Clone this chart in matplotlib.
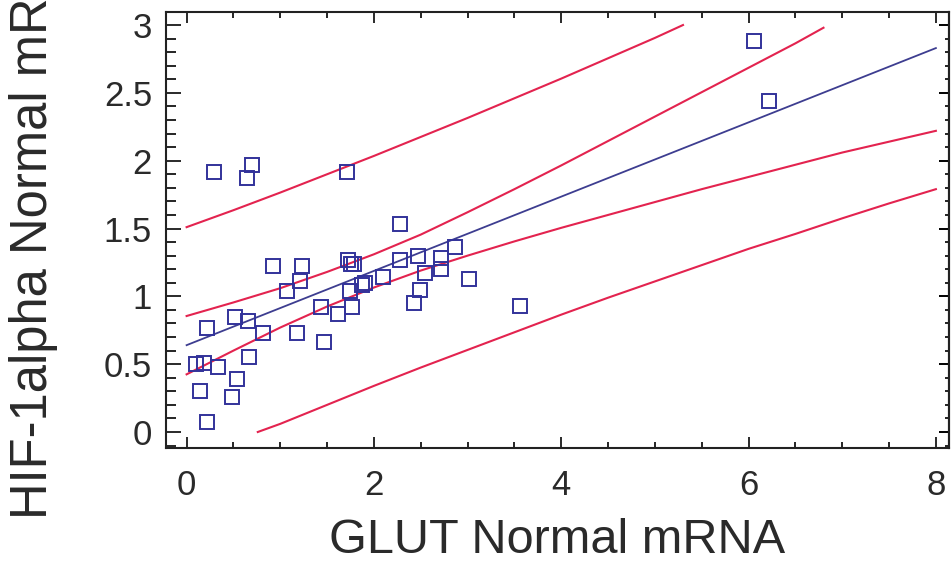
import matplotlib
matplotlib.use("Agg")
import matplotlib.pyplot as plt
from matplotlib.ticker import MultipleLocator, FormatStrFormatter

plt.rcParams['font.family'] = ['Liberation Sans', 'DejaVu Sans']

# scatter data
glut_x = [0.29, 0.64, 0.70, 1.71, 6.06, 6.22, 2.28,
          0.92, 1.23, 1.21, 1.07,
          1.72, 1.75, 1.79,
          2.28, 2.47, 2.87, 2.72, 2.72,
          2.10, 1.91, 1.87, 1.74, 1.77, 1.62, 1.44, 1.47,
          1.18, 0.82, 0.66, 0.52, 0.22,
          0.10, 0.19, 0.33, 0.67, 0.54, 0.48, 0.14, 0.22,
          2.43, 2.49, 2.54, 3.01, 3.56]
hif_y = [1.92, 1.87, 1.97, 1.92, 2.88, 2.44, 1.53,
         1.22, 1.22, 1.11, 1.04,
         1.27, 1.24, 1.24,
         1.27, 1.30, 1.36, 1.28, 1.20,
         1.14, 1.10, 1.08, 1.04, 0.92, 0.87, 0.92, 0.66,
         0.73, 0.73, 0.82, 0.85, 0.77,
         0.50, 0.51, 0.48, 0.55, 0.39, 0.26, 0.30, 0.07,
         0.95, 1.05, 1.17, 1.13, 0.93]

# regression line
fit_x = [0, 8]
fit_y = [0.64, 2.83]

# confidence band
ci_up_x = [0, 0.5, 1, 1.5, 2, 2.5, 3, 3.5, 4, 4.5, 5, 5.5, 6, 6.5, 6.8]
ci_up_y = [0.855, 0.955, 1.06, 1.18, 1.31, 1.455, 1.62, 1.79, 1.965, 2.145,
           2.325, 2.505, 2.685, 2.865, 2.98]
ci_lo_x = [0, 0.5, 1, 1.5, 2, 2.5, 3, 3.5, 4, 4.5, 5, 5.5, 6, 6.5, 7, 7.5, 8]
ci_lo_y = [0.425, 0.60, 0.77, 0.925, 1.065, 1.19, 1.30, 1.405, 1.505, 1.60,
           1.695, 1.79, 1.88, 1.97, 2.06, 2.14, 2.22]

# prediction band
pi_up_x = [0, 0.5, 1, 1.5, 2, 2.5, 3, 3.5, 4, 4.5, 5, 5.3]
pi_up_y = [1.51, 1.635, 1.765, 1.90, 2.035, 2.175, 2.315, 2.46, 2.605, 2.755,
           2.905, 3.0]
pi_lo_x = [0.76, 1, 1.5, 2, 2.5, 3, 3.5, 4, 4.5, 5, 5.5, 6, 6.5, 7, 7.5, 8]
pi_lo_y = [0.0, 0.06, 0.20, 0.34, 0.475, 0.605, 0.735, 0.865, 0.99, 1.11,
           1.23, 1.35, 1.46, 1.575, 1.685, 1.79]

red = '#e3234f'
navy = '#3d3d90'
txt = '#2a2a2a'

fig = plt.figure(figsize=(9.51, 5.64), dpi=100)
ax = fig.add_axes([166 / 951, 116 / 564, 783 / 951, 436 / 564])

for xs, ys in [(ci_up_x, ci_up_y), (ci_lo_x, ci_lo_y),
               (pi_up_x, pi_up_y), (pi_lo_x, pi_lo_y)]:
    ax.plot(xs, ys, color=red, lw=1.5)
ax.plot(fit_x, fit_y, color=navy, lw=1.3)
ax.plot(glut_x, hif_y, 's', ms=10.5, mfc='none', mec='#32329a', mew=1.4)

ax.set_xlim(-0.22, 8.14)
ax.set_ylim(-0.118, 3.096)

ax.xaxis.set_major_locator(MultipleLocator(2))
ax.xaxis.set_minor_locator(MultipleLocator(0.5))
ax.yaxis.set_major_locator(MultipleLocator(0.5))
ax.yaxis.set_minor_locator(MultipleLocator(0.1))
ax.yaxis.set_major_formatter(FormatStrFormatter('%g'))

for s in ax.spines.values():
    s.set_linewidth(1.5)
    s.set_color('#222222')

ax.tick_params(axis='x', which='major', direction='in', length=8, width=1.4,
               top=True, labelsize=25, pad=15, colors=txt)
ax.tick_params(axis='x', which='minor', direction='in', length=4, width=1.2, top=True)
ax.tick_params(axis='y', which='major', direction='in', length=11, width=1.4,
               labelsize=25, pad=10, colors=txt)
ax.tick_params(axis='y', which='minor', direction='in', length=7, width=1.2)

sec = ax.secondary_yaxis('right')
sec.yaxis.set_major_locator(MultipleLocator(0.5))
sec.yaxis.set_minor_locator(MultipleLocator(0.1))
sec.tick_params(which='major', direction='in', length=7, width=1.4, labelright=False)
sec.tick_params(which='minor', direction='in', length=3, width=1.2)
sec.spines['right'].set_linewidth(1.5)

ax.set_xlabel('GLUT Normal mRNA', fontsize=35, color=txt)
ax.set_ylabel('HIF-1alpha Normal mRNA', fontsize=36.5, color=txt)
ax.xaxis.set_label_coords(0.5, -0.16)
ax.yaxis.set_label_coords(-0.138, 0.515)

fig.savefig('out.png', dpi=100)
